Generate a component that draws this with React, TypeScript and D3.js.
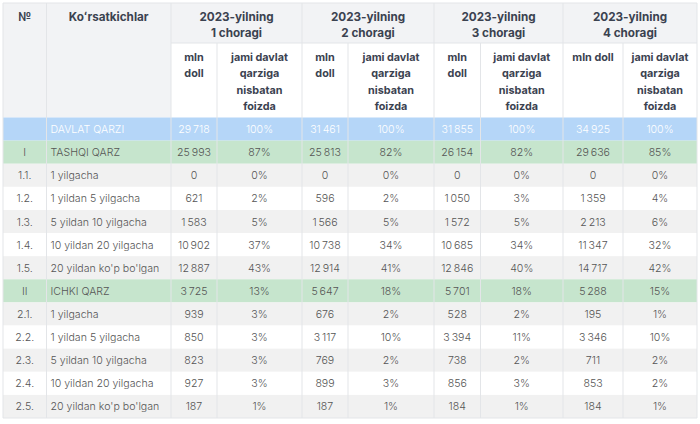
import React from "react";
import * as d3 from "d3";

const quarterTitles = ["1 choragi", "2 choragi", "3 choragi", "4 choragi"];
const rowNums = ["", "I", "1.1.", "1.2.", "1.3.", "1.4.", "1.5.", "II", "2.1.", "2.2.", "2.3.", "2.4.", "2.5."];
const rowLabels = [
  "DAVLAT QARZI", "TASHQI QARZ", "1 yilgacha", "1 yildan 5 yilgacha", "5 yildan 10 yilgacha",
  "10 yildan 20 yilgacha", "20 yildan ko'p bo'lgan", "ICHKI QARZ", "1 yilgacha",
  "1 yildan 5 yilgacha", "5 yildan 10 yilgacha", "10 yildan 20 yilgacha", "20 yildan ko'p bo'lgan",
];
const q1Mln = [29718, 25993, 0, 621, 1583, 10902, 12887, 3725, 939, 850, 823, 927, 187];
const q1Pct = [100, 87, 0, 2, 5, 37, 43, 13, 3, 3, 3, 3, 1];
const q2Mln = [31461, 25813, 0, 596, 1566, 10738, 12914, 5647, 676, 3117, 769, 899, 187];
const q2Pct = [100, 82, 0, 2, 5, 34, 41, 18, 2, 10, 2, 3, 1];
const q3Mln = [31855, 26154, 0, 1050, 1572, 10685, 12846, 5701, 528, 3394, 738, 856, 184];
const q3Pct = [100, 82, 0, 3, 5, 34, 40, 18, 2, 11, 2, 3, 1];
const q4Mln = [34925, 29636, 0, 1359, 2213, 11347, 14717, 5288, 195, 3346, 711, 853, 184];
const q4Pct = [100, 85, 0, 4, 6, 32, 42, 15, 1, 10, 2, 2, 1];

const mlnSeries = [q1Mln, q2Mln, q3Mln, q4Mln];
const pctSeries = [q1Pct, q2Pct, q3Pct, q4Pct];

const locale = d3.formatLocale({ decimal: ",", thousands: "\u2009", grouping: [3], currency: ["", ""] });
const fmtNum = locale.format(",d");

const W = 700, H = 424;
// column edges
const colEdges = [3, 46.5, 171, 217, 302, 348, 434, 480.5, 563, 623, 697];
const headTop = 3, headMid = 43, headBottom = 117.5, tableBottom = 418;

const HEAD_BG = "#f2f3f5";
const GRID = "#e3e5e8";
const HEAD_TXT = "#3b4250";
const BODY_TXT = "#555555";

export default function App() {
  const rowScale = d3.scaleBand<number>().domain(d3.range(rowLabels.length)).range([headBottom, tableBottom]);
  const rh = rowScale.bandwidth();
  const cx = (i: number) => (colEdges[i] + colEdges[i + 1]) / 2;

  const rowFill = (i: number) => {
    if (i === 0) return "#b5d6f8";
    if (rowNums[i] === "I" || rowNums[i] === "II") return "#c6e5cd";
    const sectionStart = i <= 6 ? 1 : 7;
    return (i - sectionStart) % 2 === 1 ? "#f1f1f1" : "#ffffff";
  };

  const subLines = (q: number) =>
    q === 3 ? [["mln doll"], ["jami davlat", "qarziga", "nisbatan", "foizda"]] : [["mln", "doll"], ["jami davlat", "qarziga", "nisbatan", "foizda"]];

  return (
    <svg width={W} height={H} style={{ position: "absolute", left: 0, top: 0, fontFamily: "Inter, sans-serif" }}>
      <rect x={0} y={0} width={W} height={H} fill="#fff" />
      {/* header backgrounds */}
      <rect x={colEdges[0]} y={headTop} width={colEdges[2] - colEdges[0]} height={headBottom - headTop} fill={HEAD_BG} />
      <rect x={colEdges[2]} y={headTop} width={colEdges[10] - colEdges[2]} height={headMid - headTop} fill={HEAD_BG} />
      <rect x={colEdges[2]} y={headMid} width={colEdges[10] - colEdges[2]} height={headBottom - headMid} fill="#ffffff" />
      {/* body rows */}
      {rowLabels.map((_, i) => (
        <rect key={"r" + i} x={colEdges[0]} y={rowScale(i)!} width={colEdges[10] - colEdges[0]} height={rh} fill={rowFill(i)} />
      ))}
      {/* grid lines */}
      {colEdges.map((x, k) => {
        const topY = k === 3 || k === 5 || k === 7 || k === 9 ? headMid : headTop;
        return <line key={"v" + k} x1={x} x2={x} y1={topY} y2={tableBottom} stroke={GRID} strokeWidth={1} />;
      })}
      <line x1={colEdges[2]} x2={colEdges[10]} y1={headMid} y2={headMid} stroke={GRID} />
      <line x1={colEdges[0]} x2={colEdges[10]} y1={headTop} y2={headTop} stroke={GRID} />
      <line x1={colEdges[0]} x2={colEdges[10]} y1={tableBottom} y2={tableBottom} stroke={GRID} />
      {/* header text */}
      <g fill={HEAD_TXT} fontWeight={700} fontSize={11.7} textAnchor="middle">
        <text x={cx(0)} y={21}>№</text>
        <text x={cx(1)} y={21}>Koʻrsatkichlar</text>
        {quarterTitles.map((t, q) => {
          const x = (colEdges[2 + q * 2] + colEdges[4 + q * 2]) / 2;
          return (
            <g key={"q" + q}>
              <text x={x} y={21}>2023-yilning</text>
              <text x={x} y={36.5}>{t}</text>
            </g>
          );
        })}
        {quarterTitles.map((_, q) =>
          subLines(q).map((lines, s) =>
            lines.map((ln, li) => (
              <text key={`s${q}-${s}-${li}`} x={cx(2 + q * 2 + s)} y={61 + li * 16.3} fontSize={10.8}>
                {ln}
              </text>
            ))
          )
        )}
      </g>
      {/* body text */}
      <g fontSize={10.6} fontWeight={300}>
        {rowLabels.map((label, i) => {
          const y = rowScale(i)! + rh / 2 + 4;
          const color = i === 0 ? "#ffffff" : BODY_TXT;
          return (
            <g key={"t" + i} fill={color}>
              <text x={cx(0)} y={y} textAnchor="middle">{rowNums[i]}</text>
              <text x={colEdges[1] + 4} y={y}>{label}</text>
              {mlnSeries.map((s, q) => (
                <text key={"m" + q} x={cx(2 + q * 2)} y={y} textAnchor="middle">{fmtNum(s[i])}</text>
              ))}
              {pctSeries.map((s, q) => (
                <text key={"p" + q} x={cx(3 + q * 2)} y={y} textAnchor="middle">{s[i] + "%"}</text>
              ))}
            </g>
          );
        })}
      </g>
    </svg>
  );
}
